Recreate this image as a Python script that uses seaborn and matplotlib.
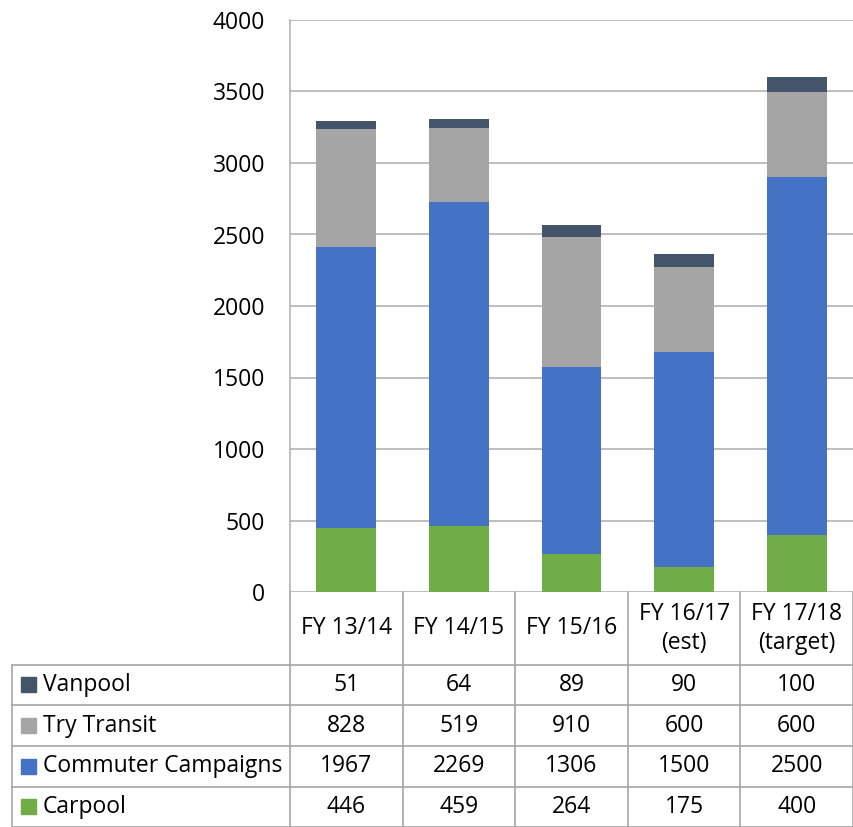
import matplotlib.pyplot as plt
import matplotlib.transforms as mtransforms
import seaborn as sns

categories = ["FY 13/14", "FY 14/15", "FY 15/16", "FY 16/17\n(est)", "FY 17/18\n(target)"]
series_names = ["Vanpool", "Try Transit", "Commuter Campaigns", "Carpool"]
carpool = [446, 459, 264, 175, 400]
commuter = [1967, 2269, 1306, 1500, 2500]
try_transit = [828, 519, 910, 600, 600]
vanpool = [51, 64, 89, 90, 100]
y_ticks = [0, 500, 1000, 1500, 2000, 2500, 3000, 3500, 4000]

colors = {
    "Carpool": "#70ad47",
    "Commuter Campaigns": "#4472c4",
    "Try Transit": "#a5a5a5",
    "Vanpool": "#44546a",
}
grid_color = "#b3b3b3"
table_color = "#a6a6a6"
text_color = "#000000"

sns.set_theme(style="white")
plt.rcParams["font.family"] = ["Open Sans", "DejaVu Sans"]
FS = 16.5

W, H = 854, 827
fig = plt.figure(figsize=(W / 100, H / 100), dpi=100)
ax = fig.add_axes([290 / W, 1 - 592 / H, (853 - 290) / W, (592 - 20) / H])

# stacked bars, bottom to top
stack = [("Carpool", carpool), ("Commuter Campaigns", commuter),
         ("Try Transit", try_transit), ("Vanpool", vanpool)]
bottom = [0] * len(categories)
for name, vals in stack:
    sns.barplot(x=categories, y=vals, bottom=bottom, color=colors[name],
                width=0.53, linewidth=0, saturation=1, ax=ax, zorder=3)
    bottom = [b + v for b, v in zip(bottom, vals)]

ax.set_xlim(-0.5, len(categories) - 0.5)
ax.set_ylim(0, 4000)
ax.set_yticks(y_ticks)
ax.set_yticklabels([str(t) for t in y_ticks], fontsize=FS, color=text_color)
ax.tick_params(axis="y", length=0, pad=18)
ax.set_xticks([])
ax.set_xlabel("")
ax.set_ylabel("")
for t in y_ticks:
    ax.axhline(t, color=grid_color, linewidth=1.2, zorder=1)
for side in ["top", "right", "bottom"]:
    ax.spines[side].set_visible(False)
ax.spines["left"].set_color(grid_color)
ax.spines["left"].set_linewidth(1.2)

# data table under the chart
tr = mtransforms.blended_transform_factory(ax.transData, fig.transFigure)
fy = lambda px: 1 - px / H
fx = lambda px: px / W
row_edges = [592, 665, 705, 746, 787, 827]
n = len(categories)

for i in range(n + 1):
    fig.add_artist(plt.Line2D([i - 0.5, i - 0.5], [fy(592), fy(827)], transform=tr,
                              color=table_color, linewidth=1.2))
for y in row_edges[1:]:
    fig.add_artist(plt.Line2D([fx(12), fx(853)], [fy(y), fy(y)], transform=fig.transFigure,
                              color=table_color, linewidth=1.2))
fig.add_artist(plt.Line2D([fx(12), fx(12)], [fy(665), fy(827)], transform=fig.transFigure,
                          color=table_color, linewidth=1.2))

for i, cat in enumerate(categories):
    fig.text(i, fy((592 + 665) / 2), cat, transform=tr, ha="center", va="center",
             fontsize=FS, linespacing=1.25, color=text_color)

row_values = {"Vanpool": vanpool, "Try Transit": try_transit,
              "Commuter Campaigns": commuter, "Carpool": carpool}
for r, name in enumerate(series_names):
    yc = fy((row_edges[r + 1] + row_edges[r + 2]) / 2)
    fig.add_artist(plt.Rectangle((fx(21), yc - 7 / H), 15 / W, 15 / H,
                                 transform=fig.transFigure, color=colors[name]))
    fig.text(fx(43), yc, name, ha="left", va="center", fontsize=FS, color=text_color)
    for i, v in enumerate(row_values[name]):
        fig.text(i, yc, str(v), transform=tr, ha="center", va="center",
                 fontsize=FS, color=text_color)

fig.savefig("out.png", dpi=100)
